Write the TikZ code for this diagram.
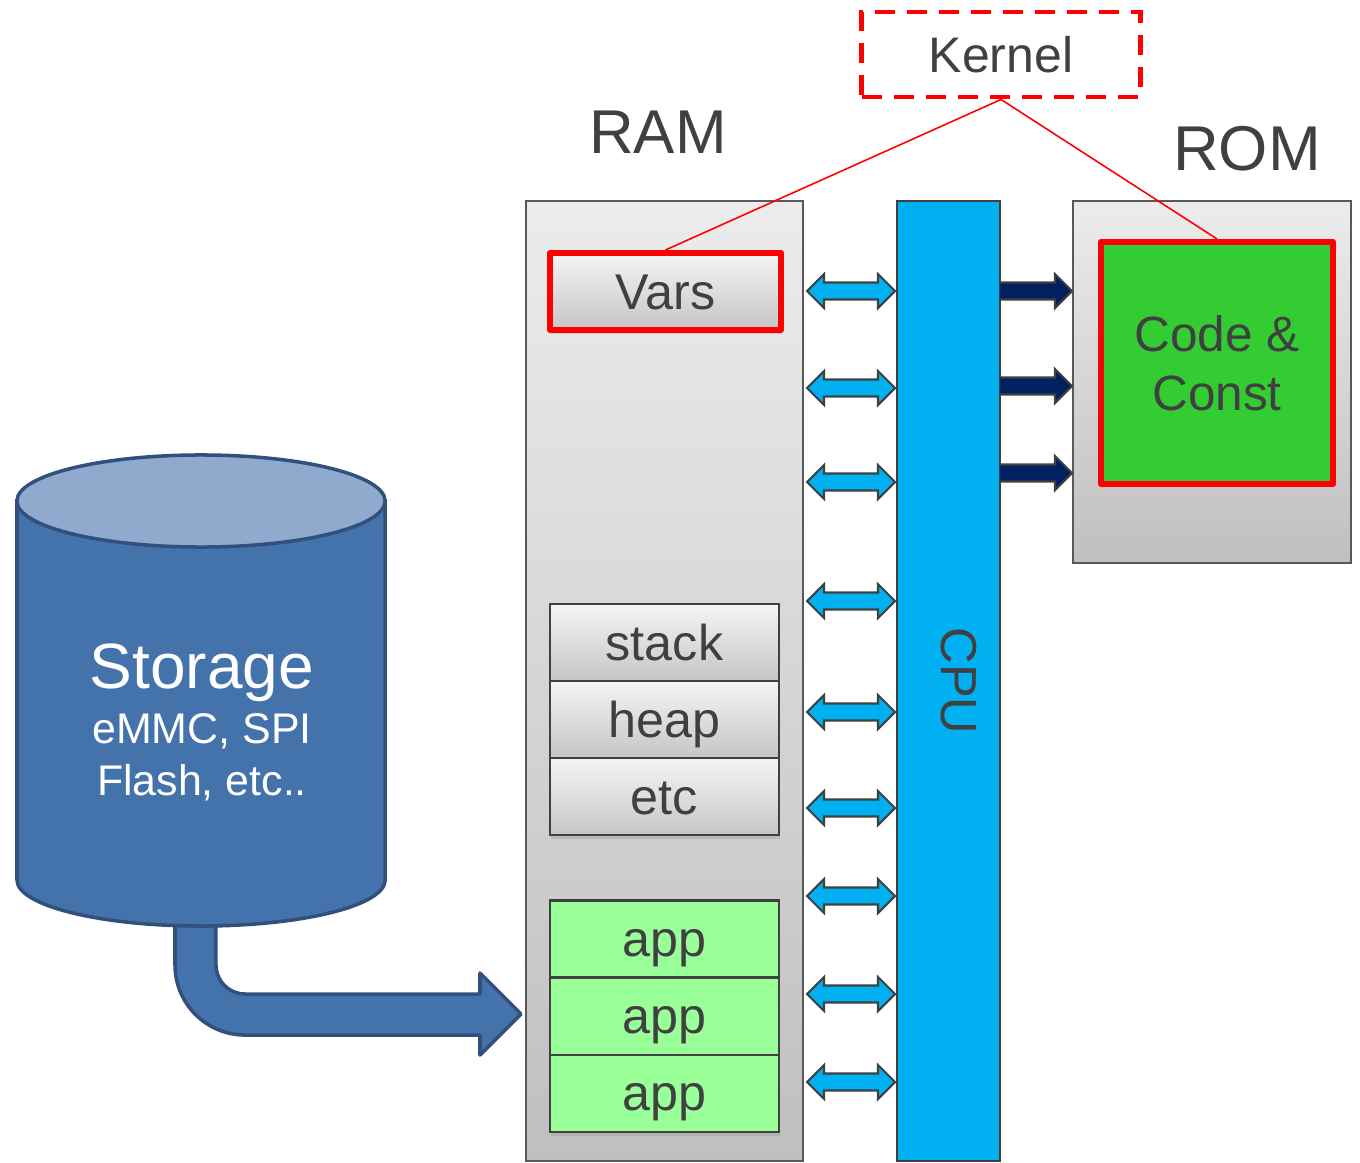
\documentclass[tikz,border=0pt]{standalone}
\usepackage{fontspec}
\setmainfont{Liberation Sans}
\usetikzlibrary{positioning,shadows}

\definecolor{txtgray}{HTML}{404040}
\definecolor{cpublue}{HTML}{00B0F0}
\definecolor{navy}{HTML}{002060}
\definecolor{codegreen}{HTML}{33CC33}
\definecolor{appgreen}{HTML}{99FF99}
\definecolor{diskblue}{HTML}{4472AA}
\definecolor{disktop}{HTML}{8FAACC}
\definecolor{diskline}{HTML}{32507D}

\tikzset{
  memory/.style={draw=black!65, line width=0.6pt, top color=gray!15, bottom color=gray!50},
  cell/.style={draw=txtgray, line width=0.6pt, minimum width=2.29cm, minimum height=0.77cm,
    text height=10pt, text depth=0pt, font=\fontsize{14.3}{17}\selectfont, text=txtgray,
    drop shadow={shadow xshift=0.4pt, shadow yshift=-1.2pt, opacity=0.25}},
  graycell/.style={cell, top color=gray!8, bottom color=gray!45},
  appcell/.style={cell, fill=appgreen},
  busarrow/.style={draw=txtgray, line width=0.6pt, fill=cpublue},
  romarrow/.style={draw=txtgray, line width=0.6pt, fill=navy},
  disk/.style={draw=diskline, line width=1pt},
  kernelline/.style={draw=red, line width=0.45pt},
  redframe/.style={draw=red, line width=1.7pt, line join=round},
}

\begin{document}
\begin{tikzpicture}[x=0.01cm, y=0.01cm]
\useasboundingbox (0,0) rectangle (1360,1162);

% memories and the cpu
\node[memory, minimum width=2.77cm, minimum height=9.6cm] (ram) at (664.5,481) {};
\node[draw=txtgray, line width=0.6pt, fill=cpublue, minimum width=1.03cm, minimum height=9.6cm] (cpu) at (948.5,481) {};
\node[memory, minimum width=2.78cm, minimum height=3.62cm] (rom) at (1212,780) {};
\node[rotate=-90, font=\fontsize{14.4}{17}\selectfont, text=txtgray] (cpulbl) at (959,481) {CPU};

\node[anchor=base, font=\fontsize{17.6}{21}\selectfont, text=txtgray] (ramlbl) at (658,1009) {RAM};
\node[anchor=base, font=\fontsize{18}{21}\selectfont, text=txtgray] (romlbl) at (1247,992) {ROM};

\node[draw=red, line width=1.4pt, dash pattern=on 5.7pt off 3.4pt, fill=white,
  minimum width=2.78cm, minimum height=0.85cm, font=\fontsize{14.2}{17}\selectfont, text=txtgray] (kernel) at (1001,1107.5) {Kernel};

% ram contents
\node[graycell, redframe, minimum width=2.31cm] (vars) at (665.5,870.5) {Vars};

\node[graycell] (stack) at (664.5,519.5) {stack};
\node[graycell, below=-0.6pt of stack] (heap) {heap};
\node[graycell, below=-0.6pt of heap] (etc) {etc};

\node[appcell] (app1) at (664.5,223) {app};
\node[appcell, below=-0.6pt of app1] (app2) {app};
\node[appcell, below=-0.6pt of app2] (app3) {app};

% rom contents
\node[redframe, fill=codegreen, minimum width=2.32cm, minimum height=2.42cm,
  align=center, font=\fontsize{14.1}{16.8}\selectfont, text=txtgray] (code) at (1217,799) {Code \&\\Const};

\draw[kernelline] (kernel.south) -- (vars.north);
\draw[kernelline] (kernel.south) -- (code.north);

% buses
\foreach \y in {871,774,680,561,450,354,266,168,80}
  \draw[busarrow] (807,\y) -- (824,\y+17) -- (824,\y+8.5) -- (878,\y+8.5) -- (878,\y+17) -- (895,\y)
    -- (878,\y-17) -- (878,\y-8.5) -- (824,\y-8.5) -- (824,\y-17) -- cycle;
\foreach \y in {871,776,689}
  \draw[romarrow] (1000,\y+8.5) -- (1055,\y+8.5) -- (1055,\y+17) -- (1072,\y) -- (1055,\y-17) -- (1055,\y-8.5) -- (1000,\y-8.5);

% storage
\draw[disk, fill=diskblue, line join=round] (175,300) -- (175,197) arc (180:270:0.7cm) -- (480,127) -- (480,107)
  -- (521,148) -- (480,189) -- (480,168) -- (245,168) arc (270:180:0.29cm) -- (216,300) -- cycle;
\draw[disk, fill=diskblue] (17,661) -- (17,282) arc (180:360:1.84cm and 0.46cm) -- (385,661) -- cycle;
\draw[disk, fill=disktop] (201,661) ellipse (1.84cm and 0.46cm);

\node[anchor=base, text=white, font=\fontsize{18.2}{22}\selectfont] (storage) at (202,474) {Storage};
\node[anchor=base, text=white, font=\fontsize{12.2}{14}\selectfont] (media) at (202,419) {eMMC, SPI};
\node[anchor=base, text=white, font=\fontsize{12.2}{14}\selectfont] (flash) at (202,367) {Flash, etc..};
\end{tikzpicture}
\end{document}
